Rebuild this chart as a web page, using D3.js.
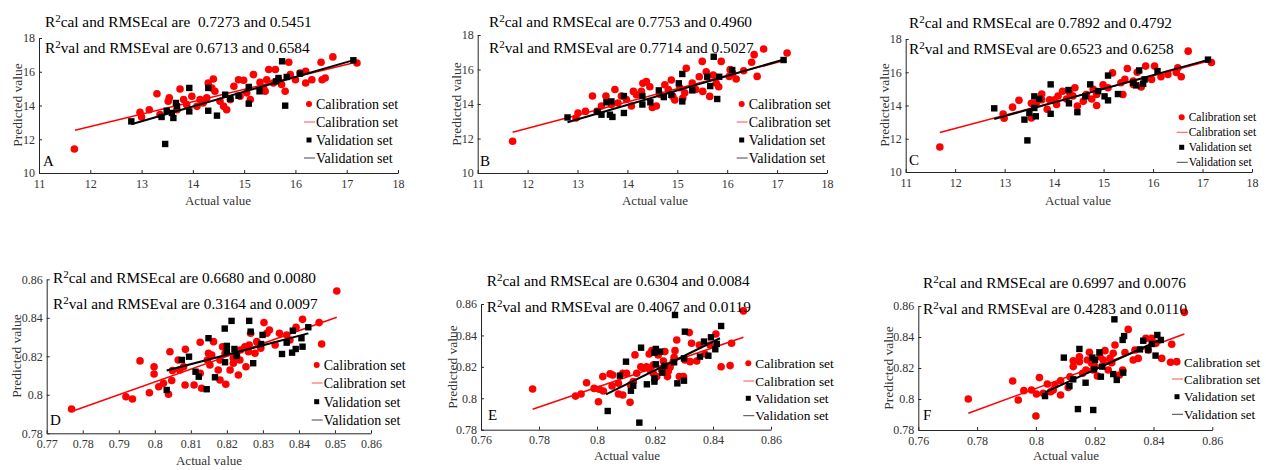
<!DOCTYPE html>
<html>
<head>
<meta charset="utf-8">
<script src="https://cdn.jsdelivr.net/npm/d3@7"></script>
<style>
  body { margin: 0; background: #fff; }
  svg text { font-family: 'Liberation Serif', 'Times New Roman', serif; }
</style>
</head>
<body>
<div id="chart"></div>
<script>
// ---- data ----
var calA = [[11.69,11.42],[17.2,16.52],[16.73,16.88],[15.87,16.56],[16.5,16.56],[13.3,14.7],[12.97,13.6],[13.0,13.32],[13.15,13.75],[13.75,14.98],[13.54,14.45],[13.52,14.25],[13.82,14.35],[13.88,14.05],[13.98,14.55],[14.14,14.35],[14.27,14.45],[14.4,15.57],[14.3,15.33],[14.37,15.04],[14.43,14.84],[14.53,14.25],[14.6,13.95],[14.66,13.75],[14.73,14.35],[14.8,15.14],[14.89,15.53],[14.99,15.5],[14.92,14.55],[15.05,14.75],[15.12,14.35],[15.18,15.83],[15.31,15.37],[15.38,15.04],[15.44,15.53],[15.48,16.13],[15.61,16.13],[15.41,14.84],[15.57,15.33],[15.67,15.53],[15.73,15.24],[15.8,14.84],[15.9,15.83],[16.0,15.53],[16.09,15.93],[16.2,16.03],[16.2,15.33],[16.32,15.53],[16.52,15.53],[16.58,15.63],[14.08,13.95],[14.2,14.15],[13.36,13.46],[13.69,13.75]];
var valA = [[12.8,13.06],[13.46,11.72],[13.39,13.32],[13.49,13.69],[13.59,13.56],[13.62,13.26],[13.67,14.15],[13.69,13.95],[13.93,15.04],[13.93,13.65],[14.3,15.04],[14.3,13.69],[14.47,13.4],[14.63,14.64],[14.73,14.39],[14.89,14.58],[15.09,15.1],[15.09,14.11],[15.3,14.84],[15.62,15.43],[15.67,15.63],[15.74,16.62],[15.8,13.99],[15.83,15.69],[16.09,15.89],[17.13,16.68]];
var fitCalA = [[11.7,12.53],[17.2,16.58]];
var fitValA = [[12.8,12.89],[17.17,16.72]];

var calB = [[11.7,11.84],[17.2,16.96],[16.73,17.19],[16.54,16.86],[16.49,16.42],[16.6,15.6],[16.33,15.93],[16.18,15.45],[16.06,15.99],[15.88,16.47],[15.83,15.0],[15.78,15.2],[15.72,15.68],[15.58,15.87],[15.5,16.47],[15.44,15.58],[15.37,14.84],[15.3,15.22],[15.18,16.07],[15.15,14.65],[15.05,14.94],[14.95,14.23],[14.88,15.39],[14.82,14.84],[14.75,15.12],[14.65,14.56],[14.58,13.88],[14.5,13.8],[14.45,15.0],[14.38,15.3],[14.31,15.2],[14.28,14.73],[14.18,14.54],[14.12,14.73],[14.08,13.88],[13.98,14.26],[13.88,14.46],[13.81,14.06],[13.75,14.84],[13.68,13.97],[13.57,14.46],[13.48,13.88],[13.3,14.46],[13.16,13.57],[13.01,13.48],[12.97,13.19],[13.39,13.57],[15.11,14.35],[14.91,14.44],[15.51,14.73],[15.65,14.44],[16.04,15.6],[16.11,15.8]];
var valB = [[12.8,13.22],[13.4,13.55],[13.48,13.38],[13.58,14.1],[13.68,14.15],[13.65,13.38],[13.7,13.25],[13.93,14.46],[13.93,13.48],[14.3,14.46],[14.3,13.97],[14.46,14.1],[14.63,14.79],[14.73,14.4],[14.88,14.54],[15.03,15.2],[15.1,15.74],[15.1,14.15],[15.3,14.79],[15.6,15.58],[15.66,15.04],[15.73,16.74],[15.8,14.29],[15.84,15.58],[16.1,15.97],[17.13,16.55]];
var fitCalB = [[11.7,12.36],[17.18,16.55]];
var fitValB = [[12.8,12.94],[17.15,16.59]];

var calC = [[11.69,11.5],[17.18,16.59],[16.71,17.27],[16.57,15.73],[16.47,15.99],[16.5,16.27],[16.3,15.87],[16.16,15.73],[16.03,16.37],[15.97,15.57],[15.85,16.37],[15.76,15.11],[15.68,16.0],[15.6,15.47],[15.48,16.23],[15.43,15.57],[15.39,14.66],[15.35,15.37],[15.18,15.96],[15.09,15.07],[14.99,15.25],[14.86,14.66],[14.86,14.0],[14.76,14.39],[14.65,14.66],[14.59,14.25],[14.47,13.97],[14.42,15.07],[14.32,14.72],[14.25,14.39],[14.17,14.86],[14.08,14.57],[14.05,14.06],[13.91,14.35],[13.86,13.77],[13.75,14.35],[13.75,14.69],[13.64,14.15],[13.54,14.13],[13.54,13.25],[13.29,14.31],[13.16,13.9],[12.97,13.49],[12.99,13.23],[14.38,14.57],[14.79,14.97],[14.01,14.35],[15.6,15.27]];
var valC = [[12.79,13.83],[13.4,13.15],[13.46,11.9],[13.5,13.55],[13.6,14.55],[13.6,13.85],[13.63,13.35],[13.7,14.4],[13.93,15.27],[13.93,13.5],[14.29,14.93],[14.3,14.13],[14.47,13.6],[14.63,14.55],[14.73,15.27],[14.89,14.87],[15.02,14.55],[15.09,15.8],[15.09,14.31],[15.29,14.69],[15.6,15.37],[15.66,15.21],[15.72,16.11],[15.8,15.31],[15.83,15.57],[16.09,16.07],[17.11,16.76]];
var fitCalC = [[11.69,12.38],[17.14,16.69]];
var fitValC = [[12.79,13.19],[17.13,16.76]];

var calD = [[0.7769,0.7926],[0.8505,0.8539],[0.8463,0.8264],[0.8456,0.8375],[0.841,0.8392],[0.8392,0.8351],[0.8375,0.8285],[0.8366,0.8311],[0.8346,0.832],[0.8334,0.8259],[0.8318,0.8337],[0.8311,0.832],[0.8303,0.8375],[0.8294,0.8242],[0.8283,0.8276],[0.8278,0.8216],[0.8266,0.832],[0.8262,0.8259],[0.826,0.8224],[0.825,0.825],[0.8253,0.8146],[0.8238,0.8233],[0.8232,0.8103],[0.8227,0.8202],[0.8218,0.8164],[0.8209,0.8129],[0.8195,0.8216],[0.8188,0.825],[0.8181,0.8181],[0.8181,0.8077],[0.8197,0.8055],[0.8176,0.8129],[0.8163,0.8276],[0.8158,0.8207],[0.8149,0.8216],[0.8146,0.8181],[0.8126,0.8273],[0.8126,0.8112],[0.813,0.8034],[0.8109,0.8051],[0.8085,0.8236],[0.8084,0.8051],[0.808,0.8146],[0.8065,0.8181],[0.8069,0.8129],[0.8049,0.8126],[0.8047,0.8074],[0.8042,0.8224],[0.8038,0.8003],[0.8024,0.806],[0.8011,0.8042],[0.7998,0.8108],[0.7998,0.8146],[0.7985,0.8011],[0.7959,0.8176],[0.7938,0.7978],[0.792,0.799],[0.8153,0.8155],[0.8218,0.819],[0.8236,0.8181]];
var valD = [[0.8033,0.8025],[0.8075,0.8181],[0.8095,0.8198],[0.8113,0.812],[0.8122,0.8094],[0.8144,0.8029],[0.8149,0.8294],[0.8167,0.8091],[0.8194,0.8344],[0.8195,0.8169],[0.82,0.8254],[0.82,0.8224],[0.8213,0.8384],[0.8221,0.8238],[0.8227,0.8202],[0.8262,0.8384],[0.8266,0.8328],[0.8273,0.8164],[0.8295,0.8264],[0.8299,0.8311],[0.8353,0.8212],[0.8366,0.8271],[0.8381,0.8219],[0.8383,0.8333],[0.8391,0.8238],[0.8407,0.8294],[0.841,0.825],[0.8426,0.8351]];
var fitCalD = [[0.7769,0.7913],[0.8505,0.8403]];
var fitValD = [[0.8033,0.8126],[0.8426,0.8319]];

var calE = [[0.7778,0.8059],[0.8505,0.8556],[0.8464,0.835],[0.8459,0.8208],[0.8428,0.8201],[0.841,0.8409],[0.839,0.8339],[0.8372,0.8282],[0.8353,0.8339],[0.8344,0.8237],[0.8326,0.835],[0.8318,0.8418],[0.8321,0.8233],[0.8303,0.8244],[0.8298,0.8138],[0.8284,0.8138],[0.8275,0.8371],[0.8269,0.8303],[0.8266,0.8261],[0.8263,0.8233],[0.8252,0.8197],[0.8243,0.8138],[0.8234,0.8297],[0.8229,0.8237],[0.8223,0.818],[0.8211,0.8276],[0.8194,0.8212],[0.8189,0.8303],[0.8183,0.818],[0.818,0.8282],[0.8171,0.8201],[0.816,0.8191],[0.8151,0.8201],[0.8137,0.8159],[0.8131,0.8276],[0.8125,0.8106],[0.8116,0.8085],[0.8114,0.7974],[0.8102,0.8159],[0.8089,0.8159],[0.8074,0.8095],[0.8074,0.8027],[0.8089,0.8021],[0.8054,0.8148],[0.8045,0.8155],[0.8052,0.8078],[0.802,0.8138],[0.8022,0.8046],[0.8008,0.8057],[0.8005,0.7978],[0.799,0.8063],[0.7964,0.8099],[0.7945,0.8027],[0.7926,0.8014],[0.8206,0.8138],[0.8194,0.8159],[0.8246,0.8174]];
var valE = [[0.8037,0.7919],[0.8079,0.8144],[0.81,0.8233],[0.8117,0.8048],[0.8125,0.808],[0.8146,0.7845],[0.8152,0.8322],[0.8172,0.8089],[0.8198,0.8106],[0.8198,0.8127],[0.8198,0.829],[0.8203,0.8314],[0.8203,0.8216],[0.8217,0.8297],[0.8225,0.8163],[0.8232,0.8206],[0.8269,0.853],[0.8266,0.8229],[0.8277,0.8095],[0.83,0.8112],[0.83,0.8254],[0.8303,0.8424],[0.8355,0.8265],[0.8369,0.8361],[0.8384,0.8271],[0.8393,0.8388],[0.8408,0.8312],[0.8413,0.8346],[0.8428,0.846]];
var fitCalE = [[0.7778,0.793],[0.8505,0.8388]];
var fitValE = [[0.8031,0.8025],[0.8424,0.8382]];

var calF = [[0.777,0.8],[0.8505,0.8559],[0.8479,0.8241],[0.8462,0.8353],[0.8458,0.8237],[0.8428,0.8262],[0.8408,0.8359],[0.8394,0.8391],[0.8374,0.8391],[0.8382,0.8316],[0.8348,0.8262],[0.8337,0.8316],[0.8331,0.8252],[0.8314,0.8449],[0.8303,0.8299],[0.8295,0.8187],[0.8284,0.8155],[0.8269,0.8348],[0.8263,0.8295],[0.8258,0.8234],[0.8246,0.8187],[0.8235,0.8312],[0.8229,0.8252],[0.8218,0.8273],[0.8209,0.8148],[0.8201,0.8209],[0.819,0.823],[0.8182,0.8301],[0.8175,0.8252],[0.817,0.8187],[0.8159,0.8166],[0.8148,0.8241],[0.8148,0.8273],[0.8127,0.8209],[0.8127,0.8247],[0.8116,0.8144],[0.811,0.8075],[0.8084,0.8118],[0.8084,0.8026],[0.8065,0.809],[0.805,0.8047],[0.8039,0.8097],[0.8025,0.8037],[0.8012,0.8138],[0.8,0.789],[0.8002,0.8032],[0.7985,0.8058],[0.7959,0.8054],[0.794,0.7994],[0.7921,0.8116],[0.8059,0.8058],[0.8195,0.8187],[0.8252,0.8262]];
var valF = [[0.8031,0.8019],[0.8095,0.8267],[0.8114,0.8084],[0.8127,0.8127],[0.8143,0.7935],[0.8148,0.8323],[0.8169,0.8105],[0.8192,0.8267],[0.8195,0.7929],[0.8198,0.8191],[0.8201,0.8252],[0.8216,0.8301],[0.8221,0.8144],[0.8226,0.8209],[0.8267,0.8514],[0.8263,0.8161],[0.8275,0.8123],[0.8295,0.8381],[0.83,0.8406],[0.8297,0.817],[0.8354,0.832],[0.8365,0.8376],[0.8382,0.8316],[0.8394,0.8355],[0.8407,0.828],[0.8413,0.8413],[0.8425,0.8381]];
var fitCalF = [[0.777,0.7908],[0.8505,0.8419]];
var fitValF = [[0.8031,0.8043],[0.8416,0.8376]];

var ticksXTop = [11, 12, 13, 14, 15, 16, 17, 18];
var ticksYTop = [10, 12, 14, 16, 18];
var ticksXD = [0.77, 0.78, 0.79, 0.8, 0.81, 0.82, 0.83, 0.84, 0.85, 0.86];
var ticksXEF = [0.76, 0.78, 0.8, 0.82, 0.84, 0.86];
var ticksYBot = [0.78, 0.8, 0.82, 0.84, 0.86];

var statsCal = ["0.7273 and 0.5451", "0.7753 and 0.4960", "0.7892 and 0.4792", "0.6680 and 0.0080", "0.6304 and 0.0084", "0.6997 and 0.0076"];
var statsVal = ["0.6713 and 0.6584", "0.7714 and 0.5027", "0.6523 and 0.6258", "0.3164 and 0.0097", "0.4067 and 0.0119", "0.4283 and 0.0110"];
var letters = ["A", "B", "C", "D", "E", "F"];
var legendLabels = ["Calibration set", "Calibration set", "Validation set", "Validation set"];

// ---- layout (pixels) ----
var panels = [
  {cal: calA, val: valA, fc: fitCalA, fv: fitValA, xDom: [11, 18], yDom: [10, 18], xt: ticksXTop, yt: ticksYTop,
   x0: 39, x1: 398, yTop: 38, yBot: 173, tx: 45, ty: 26.5, gap: "\u00a0 ", lx: 309, ly: [104, 122, 140, 158], lfs: 14,
   letter: [43, 166], xl: [218, 205], yl: [17, 105]},
  {cal: calB, val: valB, fc: fitCalB, fv: fitValB, xDom: [11, 18], yDom: [10, 18], xt: ticksXTop, yt: ticksYTop,
   x0: 477.7, x1: 827, yTop: 35, yBot: 173, tx: 489, ty: 26.5, gap: " ", lx: 741.7, ly: [104, 122, 140, 158], lfs: 14,
   letter: [480, 166], xl: [655, 205], yl: [456, 104]},
  {cal: calC, val: valC, fc: fitCalC, fv: fitValC, xDom: [11, 18], yDom: [10, 18], xt: ticksXTop, yt: ticksYTop,
   x0: 905.7, x1: 1252, yTop: 39, yBot: 172, tx: 909, ty: 28.3, gap: " ", lx: 1181.7, ly: [117.3, 132.3, 147.3, 162.3], lfs: 11.5,
   letter: [909, 165], xl: [1078, 205], yl: [884, 105]},
  {cal: calD, val: valD, fc: fitCalD, fv: fitValD, xDom: [0.77, 0.86], yDom: [0.78, 0.86], xt: ticksXD, yt: ticksYBot,
   x0: 46.7, x1: 371, yTop: 279.3, yBot: 433.3, tx: 53, ty: 283.3, gap: " ", lx: 316.7, ly: [365, 383, 401.7, 420], lfs: 14,
   letter: [50, 425], xl: [209, 465], yl: [16, 356]},
  {cal: calE, val: valE, fc: fitCalE, fv: fitValE, xDom: [0.76, 0.86], yDom: [0.78, 0.86], xt: ticksXEF, yt: ticksYBot,
   x0: 481, x1: 771, yTop: 304, yBot: 429.7, tx: 486.7, ty: 286, gap: " ", lx: 748.3, ly: [363.3, 381, 398.3, 415.7], lfs: 13.4,
   letter: [488, 420], xl: [627, 460], yl: [452, 367]},
  {cal: calF, val: valF, fc: fitCalF, fv: fitValF, xDom: [0.76, 0.86], yDom: [0.78, 0.86], xt: ticksXEF, yt: ticksYBot,
   x0: 918.3, x1: 1212.3, yTop: 306, yBot: 430, tx: 923, ty: 288.3, gap: " ", lx: 1177, ly: [362.3, 379, 396.7, 414.3], lfs: 13,
   letter: [923, 420], xl: [1066, 460], yl: [888, 368]}
];

var svg = d3.select("#chart").append("svg")
  .attr("width", 1266)
  .attr("height", 470);

var fmt = function(d) { return String(+d.toFixed(2)); };
var axisColor = "#262626";

panels.forEach(function(p, i) {
  var g = svg.append("g");
  var x = d3.scaleLinear().domain(p.xDom).range([p.x0, p.x1]);
  var y = d3.scaleLinear().domain(p.yDom).range([p.yBot, p.yTop]);

  // axes (MATLAB style, box off, ticks inward)
  var ax = g.append("g")
    .attr("transform", "translate(0," + p.yBot + ")")
    .call(d3.axisBottom(x).tickValues(p.xt).tickFormat(fmt).tickSize(-3).tickSizeOuter(0).tickPadding(6));
  var ay = g.append("g")
    .attr("transform", "translate(" + p.x0 + ",0)")
    .call(d3.axisLeft(y).tickValues(p.yt).tickFormat(fmt).tickSize(-3).tickSizeOuter(0).tickPadding(4));
  [ax, ay].forEach(function(a) {
    a.selectAll("path, line").attr("stroke", axisColor);
    a.selectAll("text").attr("fill", "#333").style("font-size", "12px");
  });

  // calibration points + fit
  g.selectAll(".cal").data(p.cal).enter().append("circle")
    .attr("cx", function(d) { return x(d[0]); })
    .attr("cy", function(d) { return y(d[1]); })
    .attr("r", 3.8)
    .attr("fill", "#ff0000");
  var line = d3.line().x(function(d) { return x(d[0]); }).y(function(d) { return y(d[1]); });
  g.append("path").datum(p.fc).attr("d", line).attr("stroke", "#ff0000").attr("stroke-width", 1.5).attr("fill", "none");

  // validation points + fit
  g.selectAll(".val").data(p.val).enter().append("rect")
    .attr("x", function(d) { return x(d[0]) - 3.2; })
    .attr("y", function(d) { return y(d[1]) - 3.2; })
    .attr("width", 6.4)
    .attr("height", 6.4)
    .attr("fill", "#000");
  g.append("path").datum(p.fv).attr("d", line).attr("stroke", "#000").attr("stroke-width", 2).attr("fill", "none");

  // two-line statistics
  var t1 = g.append("text").attr("x", p.tx).attr("y", p.ty).style("font-size", "15.3px").attr("fill", "#000");
  t1.append("tspan").text("R");
  t1.append("tspan").attr("dy", -5).style("font-size", "11px").text("2");
  t1.append("tspan").attr("dy", 5).text("cal and RMSEcal are" + p.gap + statsCal[i]);
  var t2 = g.append("text").attr("x", p.tx).attr("y", p.ty + 26).style("font-size", "15.3px").attr("fill", "#000");
  t2.append("tspan").text("R");
  t2.append("tspan").attr("dy", -5).style("font-size", "11px").text("2");
  t2.append("tspan").attr("dy", 5).text("val and RMSEval are " + statsVal[i]);

  // legend
  var lg = g.append("g");
  lg.append("circle").attr("cx", p.lx).attr("cy", p.ly[0]).attr("r", 3).attr("fill", "#ff0000");
  lg.append("line").attr("x1", p.lx - 5).attr("x2", p.lx + 6).attr("y1", p.ly[1]).attr("y2", p.ly[1]).attr("stroke", "#ff4d4d").attr("stroke-width", 1);
  lg.append("rect").attr("x", p.lx - 2.5).attr("y", p.ly[2] - 2.5).attr("width", 5).attr("height", 5).attr("fill", "#000");
  lg.append("line").attr("x1", p.lx - 5).attr("x2", p.lx + 6).attr("y1", p.ly[3]).attr("y2", p.ly[3]).attr("stroke", "#444").attr("stroke-width", 1);
  legendLabels.forEach(function(s, k) {
    lg.append("text").attr("x", p.lx + 7).attr("y", p.ly[k]).attr("dy", "0.35em")
      .style("font-size", p.lfs + "px").attr("fill", "#000").text(s);
  });

  // panel letter
  g.append("text").attr("x", p.letter[0]).attr("y", p.letter[1]).style("font-size", "15px").attr("fill", "#000").text(letters[i]);

  // axis titles
  g.append("text").attr("x", p.xl[0]).attr("y", p.xl[1]).attr("text-anchor", "middle")
    .style("font-size", "13px").attr("fill", "#333").text("Actual value");
  g.append("text").attr("transform", "translate(" + p.yl[0] + "," + p.yl[1] + ") rotate(-90)")
    .attr("text-anchor", "middle").attr("dy", "0.35em")
    .style("font-size", "13.5px").attr("fill", "#333").text("Predicted value");
});
</script>
</body>
</html>
